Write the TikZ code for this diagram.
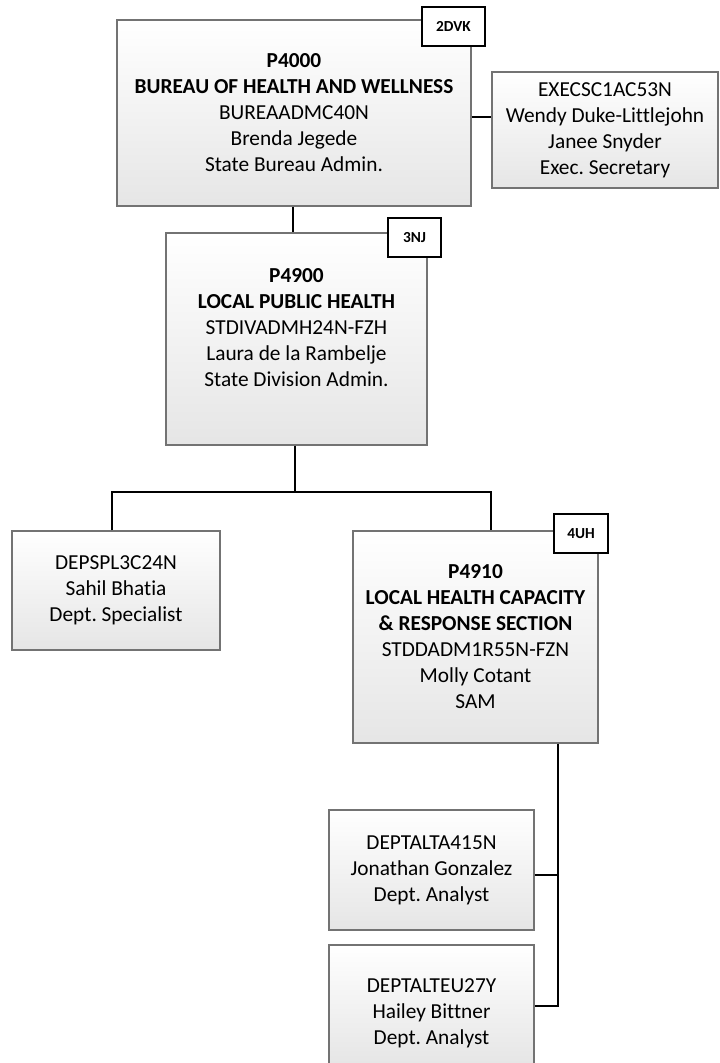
\documentclass[tikz,border=0pt]{standalone}
\usepackage{fontspec}
\setmainfont{Carlito}[Ligatures=NoCommon]
\begin{document}
\frenchspacing
\begin{tikzpicture}[x=0.75pt,y=-0.75pt,
  box/.style={draw=black!55,line width=0.8pt,top color=white,bottom color=black!10,
    rectangle,inner sep=0pt,align=center,font=\fontsize{16}{19.5}\selectfont},
  tag/.style={draw=black,line width=1.2pt,fill=white,inner sep=0pt,
    font=\bfseries\fontsize{11.5}{13}\selectfont},
  txt/.style={align=center,inner sep=0pt,font=\fontsize{16}{19.5}\selectfont},
  link/.style={draw=black,line width=1.2pt}]
\useasboundingbox (0,0) rectangle (719,1063);
\clip (0,0) rectangle (719,1063);
% boxes
\node[box,minimum width=354*0.75pt,minimum height=186*0.75pt] (b1) at (294,113)
  {\textbf{P4000}\\\textbf{BUREAU OF HEALTH AND WELLNESS}\\BUREAADMC40N\\Brenda Jegede\\State Bureau Admin.};
\node[tag,minimum width=63*0.75pt,minimum height=39*0.75pt] (t1) at (453.5,26.5) {2DVK};
\node[box,minimum width=226*0.75pt,minimum height=116*0.75pt] (ex) at (605,130)
  {EXECSC1AC53N\\Wendy Duke-Littlejohn\\Janee Snyder\\Exec. Secretary};
\node[box,minimum width=261*0.75pt,minimum height=212*0.75pt] (b2) at (296.5,339) {};
\node[txt] (b2t) at (296.5,328)
  {\textbf{P4900}\\\textbf{LOCAL PUBLIC HEALTH}\\STDIVADMH24N-FZH\\Laura de la Rambelje\\State Division Admin.};
\node[tag,minimum width=53*0.75pt,minimum height=39*0.75pt] (t2) at (414.5,237.5) {3NJ};
\node[box,minimum width=208*0.75pt,minimum height=119*0.75pt] (dep) at (116,590.5)
  {DEPSPL3C24N\\Sahil Bhatia\\Dept. Specialist};
\node[box,minimum width=245*0.75pt,minimum height=212*0.75pt] (b3) at (475.5,637)
  {\textbf{P4910}\\\textbf{LOCAL HEALTH CAPACITY}\\\textbf{\& RESPONSE SECTION}\\STDDADM1R55N-FZN\\Molly Cotant\\SAM};
\node[tag,minimum width=54*0.75pt,minimum height=39*0.75pt] (t3) at (581,533.5) {4UH};
\node[box,minimum width=205*0.75pt,minimum height=120*0.75pt] (jon) at (431.5,870)
  {DEPTALTA415N\\Jonathan Gonzalez\\Dept. Analyst};
\node[box,minimum width=205*0.75pt,minimum height=120*0.75pt] (hai) at (431.5,1005) {};
\node[txt] (hait) at (431.5,1013)
  {DEPTALTEU27Y\\Hailey Bittner\\Dept. Analyst};
% connectors
\coordinate (bus) at (295,492);
\coordinate (c1) at (293,220);
\coordinate (drop) at (558,1006);
\draw[link] (b1.south -| c1) -- (b2.north -| c1);
\draw[link] (b1.east |- 0,117) -- (ex.west |- 0,117);
\draw[link] (b2.south -| bus) -- (bus);
\draw[link] (dep.north -| 112,0) |- (bus) -| (b3.north -| 491,0);
\draw[link] (b3.south -| drop) -- (drop) -- (hai.east |- drop);
\draw[link] (jon.east |- 0,875) -- (drop |- 0,875);
\end{tikzpicture}
\end{document}
